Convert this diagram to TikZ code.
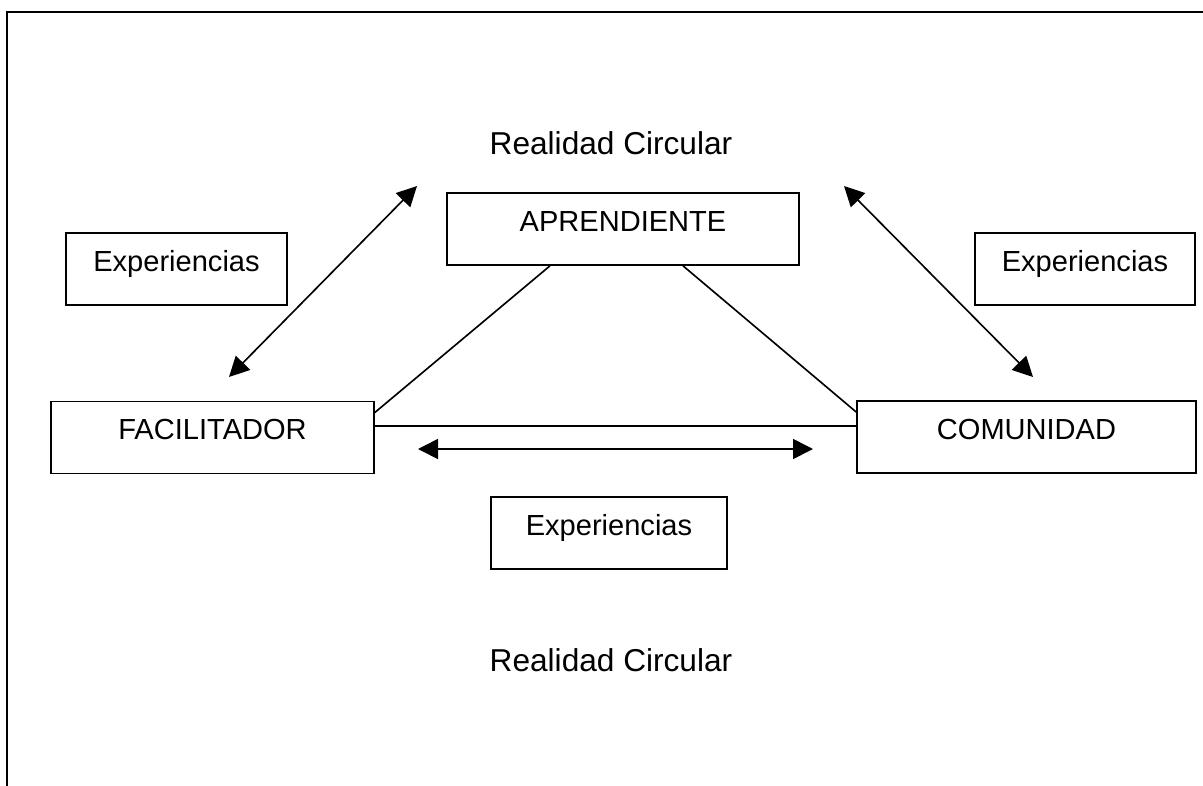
\documentclass[tikz,border=0pt]{standalone}
\usepackage{fontspec}
\setmainfont{Liberation Sans}
\usepackage{tikz}
\usetikzlibrary{arrows.meta,positioning,calc}

\begin{document}
\begin{tikzpicture}[% grid in small units, y runs downwards
					x=0.015cm,y=-0.015cm,
					every node/.style={
						align=center,		% keeps "\\" usable inside the boxes
						font=\fontsize{12.4}{14}\selectfont
						},
					caja/.style={rectangle,draw=black,line width=0.7pt,inner sep=0pt,
						text height=0.57cm,text depth=0.51cm},	% text sits a little above the middle
					every edge/.style={draw,line width=0.7pt},
					>={Triangle[length=0.3cm,width=0.3cm]}
					]
\useasboundingbox (0,0) rectangle (1203,786);
% frame
\draw[line width=1.1pt] (1203,12) -- (7,12) -- (7,786);

\node[caja,minimum width=5.28cm](APR) at (623,229) {APRENDIENTE};
\node[caja,minimum width=4.845cm](FAC) at (212.5,437.5) {FACILITADOR};
\node[caja,minimum width=5.085cm](COM) at (1026.5,437) {COMUNIDAD};
\node[caja,minimum width=3.315cm](EXPi) at (176.5,269) {Experiencias};
\node[caja,minimum width=3.3cm](EXPd) at (1085,269) {Experiencias};
\node[caja,minimum width=3.54cm](EXPb) at (609,533) {Experiencias};
\node[anchor=base,font=\fontsize{13.5}{15}\selectfont](RCa) at (611,154) {Realidad Circular};
\node[anchor=base,font=\fontsize{13.5}{15}\selectfont](RCb) at (611,671) {Realidad Circular};

% ends of the double arrows
\coordinate (Ia) at (229,377);
\coordinate (Ib) at (417,186);
\coordinate (Da) at (844,186);
\coordinate (Db) at (1033,377);
\coordinate (Ha) at (418,449);
\coordinate (Hb) at (813,449);

% triangle
\path
([shift={(0,-25)}]FAC.east) edge [] ([shift={(-73,0)}]APR.south)
([shift={(60,0)}]APR.south) edge [] ([shift={(0,-25)}]COM.west)
([shift={(0,-11.5)}]FAC.east) edge [] ([shift={(0,-11)}]COM.west)
;
\path[<->]
(Ia) edge [] (Ib)
(Da) edge [] (Db)
(Ha) edge [] (Hb)
;
\end{tikzpicture}
\end{document}
